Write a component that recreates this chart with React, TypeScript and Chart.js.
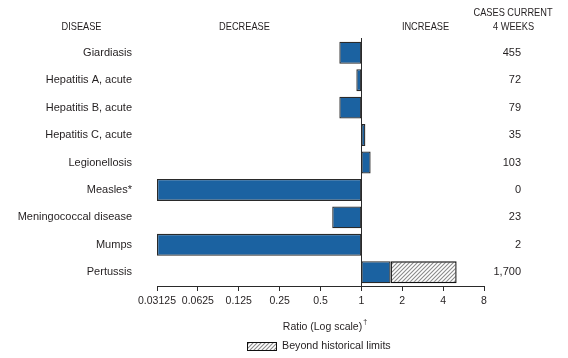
import React, { useEffect, useRef } from "react";
import { Chart, registerables } from "chart.js";

Chart.register(...registerables);

const DISEASES = [
  "Giardiasis",
  "Hepatitis A, acute",
  "Hepatitis B, acute",
  "Hepatitis C, acute",
  "Legionellosis",
  "Measles*",
  "Meningococcal disease",
  "Mumps",
  "Pertussis",
];
const RATIOS = [0.688, 0.918, 0.688, 1.07, 1.17, 0.03125, 0.61, 0.03125, 1.64];
const BEYOND_TO = [null, null, null, null, null, null, null, null, 5.03];
const CASES = ["455", "72", "79", "35", "103", "0", "23", "2", "1,700"];
const TICKS = [0.03125, 0.0625, 0.125, 0.25, 0.5, 1, 2, 4, 8];

const FONT = '"Liberation Sans", Arial, sans-serif';
const TEXT = "#231f20";
const BLUE = "#1b62a1";
const EDGE = "#2a2a2a";

function makeHatch(): CanvasPattern | string {
  const c = document.createElement("canvas");
  c.width = 4;
  c.height = 4;
  const g = c.getContext("2d");
  if (!g) return "#ccc";
  g.fillStyle = "#ffffff";
  g.fillRect(0, 0, 4, 4);
  g.strokeStyle = "#8a8a8a";
  g.lineWidth = 1.1;
  g.beginPath();
  g.moveTo(0, 4);
  g.lineTo(4, 0);
  g.moveTo(-1, 1);
  g.lineTo(1, -1);
  g.moveTo(3, 5);
  g.lineTo(5, 3);
  g.stroke();
  const p = g.createPattern(c, "repeat");
  return p || "#ccc";
}

function narrowText(ctx: CanvasRenderingContext2D, text: string, cx: number, cy: number, sx: number) {
  ctx.save();
  ctx.translate(cx, cy);
  ctx.scale(sx, 1);
  ctx.textAlign = "center";
  ctx.textBaseline = "middle";
  ctx.fillText(text, 0, 0);
  ctx.restore();
}

export default function App() {
  const ref = useRef<HTMLCanvasElement | null>(null);

  useEffect(() => {
    if (!ref.current) return;
    const hatch = makeHatch();

    const textPlugin = {
      id: "textPlugin",
      afterDatasetsDraw(chart: any) {
        const ctx = chart.ctx as CanvasRenderingContext2D;
        const xs = chart.scales.x;
        const ys = chart.scales.y;
        const area = chart.chartArea;
        ctx.save();
        // vertical line at ratio 1
        const x1 = Math.round(xs.getPixelForValue(1)) + 0.5;
        ctx.strokeStyle = EDGE;
        ctx.lineWidth = 1;
        ctx.beginPath();
        ctx.moveTo(x1, area.top - 1);
        ctx.lineTo(x1, area.bottom);
        ctx.stroke();

        // headers
        ctx.fillStyle = TEXT;
        ctx.font = `10.5px ${FONT}`;
        narrowText(ctx, "DISEASE", 81.5, 27, 0.88);
        narrowText(ctx, "DECREASE", 244.5, 27, 0.88);
        narrowText(ctx, "INCREASE", 425.5, 27, 0.88);
        narrowText(ctx, "CASES CURRENT", 513, 13, 0.88);
        narrowText(ctx, "4 WEEKS", 513.5, 27, 0.88);

        // disease labels and counts
        ctx.textBaseline = "middle";
        ctx.font = `11px ${FONT}`;
        DISEASES.forEach((d, i) => {
          const y = ys.getPixelForValue(i);
          ctx.textAlign = "right";
          ctx.fillText(d, 132, y);
          ctx.fillText(CASES[i], 521, y);
        });

        // axis title
        ctx.textAlign = "center";
        ctx.font = `10.5px ${FONT}`;
        const title = "Ratio (Log scale)";
        const cx = (area.left + area.right) / 2 + 2;
        ctx.fillText(title, cx, 327);
        const tw = ctx.measureText(title).width;
        ctx.font = `7px ${FONT}`;
        ctx.textAlign = "left";
        ctx.fillText("\u2020", cx + tw / 2 + 1, 322);

        // legend
        ctx.fillStyle = hatch as any;
        ctx.fillRect(247, 342, 29, 8);
        ctx.strokeStyle = "#111";
        ctx.lineWidth = 1;
        ctx.strokeRect(247.5, 342.5, 29, 8);
        ctx.fillStyle = TEXT;
        ctx.font = `10.7px ${FONT}`;
        ctx.textAlign = "left";
        ctx.fillText("Beyond historical limits", 282, 346.5);
        ctx.restore();
      },
    };

    const chart = new Chart(ref.current, {
      type: "bar",
      data: {
        labels: DISEASES,
        datasets: [
          {
            label: "Ratio",
            data: RATIOS.map((r) => (r < 1 ? [r, 1] : [1, r])) as any,
            backgroundColor: BLUE,
            borderColor: EDGE,
            borderWidth: 1.3,
            borderSkipped: false,
            grouped: false,
            barPercentage: 0.8,
            categoryPercentage: 1,
          },
          {
            label: "Beyond historical limits",
            data: BEYOND_TO.map((v, i) => (v == null ? null : [RATIOS[i], v])) as any,
            backgroundColor: hatch as any,
            borderColor: "#111",
            borderWidth: 1.4,
            borderSkipped: false,
            grouped: false,
            barPercentage: 0.8,
            categoryPercentage: 1,
          },
        ],
      },
      options: {
        indexAxis: "y",
        responsive: false,
        animation: false,
        layout: { padding: { left: 157, right: 84, top: 39, bottom: 0 } },
        plugins: {
          legend: { display: false },
          tooltip: { enabled: false },
          title: { display: false },
        },
        scales: {
          x: {
            type: "logarithmic",
            min: 0.03125,
            max: 8,
            afterBuildTicks: (scale: any) => {
              scale.ticks = TICKS.map((v) => ({ value: v }));
            },
            afterFit: (scale: any) => {
              scale.height = 72;
            },
            ticks: {
              autoSkip: false,
              maxRotation: 0,
              padding: 4,
              color: TEXT,
              font: { family: FONT, size: 10.5 },
              callback: (v: any) => String(v),
            },
            grid: {
              drawOnChartArea: false,
              drawTicks: true,
              tickLength: 5,
              color: EDGE,
              lineWidth: 1,
            },
            border: { display: true, color: EDGE, width: 1 },
          },
          y: {
            type: "category",
            display: false,
          },
        },
      },
      plugins: [textPlugin],
    } as any);

    return () => chart.destroy();
  }, []);

  return (
    <div style={{ position: "absolute", left: 0, top: 0, width: 568, height: 358, background: "#fff" }}>
      <canvas ref={ref} width={568} height={358} style={{ display: "block", width: 568, height: 358 }} />
    </div>
  );
}
